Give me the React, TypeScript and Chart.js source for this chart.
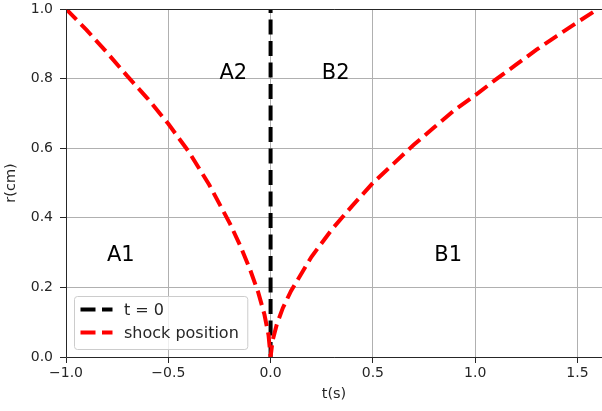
import React, { useEffect, useRef } from 'react';
import { Chart, registerables } from 'chart.js';

Chart.register(...registerables);

// Shock position, left branch (t < 0) and right branch (t > 0)
const leftT = [-1.0, -0.9, -0.8, -0.7, -0.6, -0.5, -0.4, -0.3, -0.2, -0.15, -0.1, -0.06, -0.03, -0.01, 0];
const leftR = [1.0, 0.94, 0.875, 0.807, 0.742, 0.67, 0.59, 0.495, 0.385, 0.322, 0.251, 0.185, 0.122, 0.063, 0];
const rightT = [0.01, 0.03, 0.06, 0.1, 0.2, 0.3, 0.4, 0.5, 0.6, 0.7, 0.8, 0.9, 1.0, 1.1, 1.2, 1.3, 1.4, 1.5, 1.6];
const rightR = [0.048, 0.093, 0.141, 0.19, 0.288, 0.367, 0.435, 0.5, 0.555, 0.61, 0.66, 0.71, 0.752, 0.797, 0.84, 0.883, 0.923, 0.962, 1.0];

// t = 0 vertical line
const zeroT = [0, 0];
const zeroR = [0, 1];

const xTicks = [-1.0, -0.5, 0.0, 0.5, 1.0, 1.5];
const yTicks = [0.0, 0.2, 0.4, 0.6, 0.8, 1.0];
const xMin = -1.0;
const xMax = 1.62;
const yMin = 0;
const yMax = 1.0;

const xTitle = 't(s)';
const yTitle = 'r(cm)';

const legendLabels = ['t = 0', 'shock position'];
const legendColors = ['#000000', '#ff0000'];

const regionLabels = ['A1', 'A2', 'B2', 'B1'];
const regionT = [-0.8, -0.25, 0.25, 0.8];
const regionR = [0.275, 0.8, 0.8, 0.275];

const FAMILY = '"DejaVu Sans", "Liberation Sans", sans-serif';
const TEXT = '#262626';
const DASH = [15, 6.5];

function fmt(v: number): string {
  const s = Number(v).toFixed(1);
  return s.startsWith('-') ? '\u2212' + s.slice(1) : s;
}

export default function App() {
  const ref = useRef<HTMLCanvasElement>(null);

  useEffect(() => {
    const canvas = ref.current;
    if (!canvas) return;

    const shockData = [
      ...leftT.map((t, i) => ({ x: t, y: leftR[i] })),
      ...rightT.map((t, i) => ({ x: t, y: rightR[i] })),
    ];
    const zeroData = zeroT.map((t, i) => ({ x: t, y: zeroR[i] }));

    const overlay = {
      id: 'overlay',
      afterDatasetsDraw(chart: any) {
        const { ctx, chartArea: a } = chart;
        ctx.save();
        ctx.strokeStyle = TEXT;
        ctx.lineWidth = 1;
        ctx.setLineDash([]);
        const l = Math.floor(a.left) + 0.5;
        const t = Math.floor(a.top) + 0.5;
        const b = Math.floor(a.bottom) + 0.5;
        ctx.beginPath();
        ctx.moveTo(a.right, t);
        ctx.lineTo(l, t);
        ctx.lineTo(l, b);
        ctx.lineTo(a.right, b);
        ctx.stroke();

        const xs = chart.scales.x;
        const ys = chart.scales.y;
        ctx.fillStyle = '#000';
        ctx.font = `21px ${FAMILY}`;
        ctx.textAlign = 'left';
        ctx.textBaseline = 'alphabetic';
        regionLabels.forEach((s, i) => {
          ctx.fillText(s, xs.getPixelForValue(regionT[i]), ys.getPixelForValue(regionR[i]));
        });
        ctx.restore();
      },
      afterDraw(chart: any) {
        const { ctx, chartArea: a } = chart;
        ctx.save();
        ctx.font = `16px ${FAMILY}`;
        const textW = Math.max(...legendLabels.map((s) => ctx.measureText(s).width));
        const bx = a.left + 8;
        const bw = 50 + textW + 8.5;
        const bh = 53;
        const by = a.bottom - 8 - bh;
        ctx.beginPath();
        ctx.roundRect(bx + 0.5, by + 0.5, bw, bh, 3);
        ctx.fillStyle = 'rgba(255,255,255,0.8)';
        ctx.fill();
        ctx.strokeStyle = '#cccccc';
        ctx.lineWidth = 1;
        ctx.stroke();

        const rows = [by + 13.5, by + 36.5];
        legendLabels.forEach((s, i) => {
          const y = rows[i];
          ctx.beginPath();
          ctx.setLineDash(DASH);
          ctx.lineCap = 'butt';
          ctx.strokeStyle = legendColors[i];
          ctx.lineWidth = 4;
          ctx.moveTo(bx + 6.5, y);
          ctx.lineTo(bx + 38.5, y);
          ctx.stroke();
          ctx.setLineDash([]);
          ctx.fillStyle = TEXT;
          ctx.textAlign = 'left';
          ctx.textBaseline = 'alphabetic';
          ctx.fillText(s, bx + 50, y + 5.8);
        });
        ctx.restore();
      },
    };

    const chart = new Chart(canvas, {
      type: 'scatter',
      data: {
        datasets: [
          {
            label: legendLabels[1],
            data: shockData,
            showLine: true,
            borderColor: legendColors[1],
            backgroundColor: legendColors[1],
            borderWidth: 4,
            borderDash: DASH,
            borderCapStyle: 'butt',
            pointRadius: 0,
            pointHoverRadius: 0,
            tension: 0,
            fill: false,
            clip: 0,
            order: 0,
          },
          {
            label: legendLabels[0],
            data: zeroData,
            showLine: true,
            borderColor: legendColors[0],
            backgroundColor: legendColors[0],
            borderWidth: 4,
            borderDash: DASH,
            borderCapStyle: 'butt',
            pointRadius: 0,
            pointHoverRadius: 0,
            tension: 0,
            fill: false,
            clip: 0,
            order: 1,
          },
        ],
      },
      options: {
        animation: false,
        responsive: false,
        maintainAspectRatio: false,
        events: [],
        layout: { padding: { top: 9, right: 0, left: 0, bottom: 0 } },
        plugins: { legend: { display: false }, tooltip: { enabled: false } },
        scales: {
          x: {
            type: 'linear',
            min: xMin,
            max: xMax,
            afterBuildTicks: (s: any) => {
              s.ticks = xTicks.map((v) => ({ value: v }));
            },
            afterFit: (s: any) => {
              s.height = 54;
              s.paddingLeft = 0;
              s.paddingRight = 0;
            },
            ticks: {
              font: { family: FAMILY, size: 14 },
              color: TEXT,
              padding: 1.5,
              maxRotation: 0,
              autoSkip: false,
              callback: (v: any) => fmt(v),
            },
            grid: { color: '#b0b0b0', lineWidth: 1, tickColor: TEXT, tickLength: 6, tickWidth: 1 },
            border: { display: false },
            title: {
              display: true,
              text: xTitle,
              font: { family: FAMILY, size: 14.5 },
              color: TEXT,
              padding: { top: 0, bottom: 8 },
            },
          },
          y: {
            type: 'linear',
            min: yMin,
            max: yMax,
            afterBuildTicks: (s: any) => {
              s.ticks = yTicks.map((v) => ({ value: v }));
            },
            afterFit: (s: any) => {
              s.width = 66;
              s.paddingTop = 0;
              s.paddingBottom = 0;
            },
            ticks: {
              font: { family: FAMILY, size: 14 },
              color: TEXT,
              padding: 7,
              autoSkip: false,
              callback: (v: any) => fmt(v),
            },
            grid: { color: '#b0b0b0', lineWidth: 1, tickColor: TEXT, tickLength: 6, tickWidth: 1 },
            border: { display: false },
            title: {
              display: true,
              text: yTitle,
              font: { family: FAMILY, size: 14.5 },
              color: TEXT,
              padding: { top: 2.5, bottom: 0 },
            },
          },
        },
      },
      plugins: [overlay],
    } as any);

    return () => chart.destroy();
  }, []);

  return (
    <canvas
      ref={ref}
      width={602}
      height={411}
      style={{ position: 'fixed', left: 0, top: 0, width: 602, height: 411, background: '#fff' }}
    />
  );
}
